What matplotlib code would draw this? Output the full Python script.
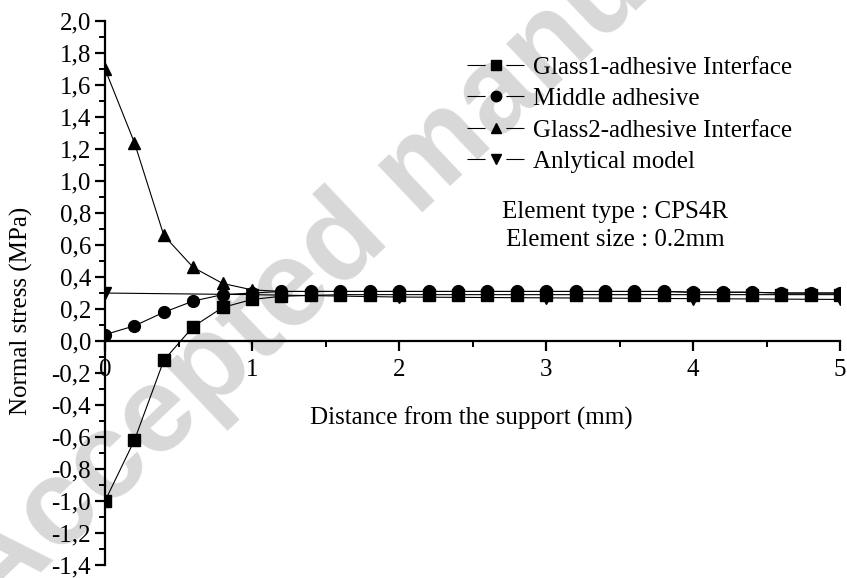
import matplotlib.pyplot as plt
import numpy as np
from matplotlib.lines import Line2D
from matplotlib.ticker import FuncFormatter, MultipleLocator

plt.rcParams['font.family'] = ['Liberation Serif', 'DejaVu Serif']
plt.rcParams['lines.scale_dashes'] = False

# distance along the joint (mm), FE nodes every 0.2 mm
x_fe = np.arange(26) * 0.2

glass1 = [-1.00, -0.62, -0.12, 0.09, 0.21, 0.26, 0.28, 0.285, 0.29, 0.29,
          0.29, 0.29, 0.29, 0.29, 0.29, 0.29, 0.29, 0.29, 0.29, 0.29,
          0.29, 0.29, 0.29, 0.29, 0.29, 0.29]
middle = [0.04, 0.095, 0.18, 0.25, 0.29, 0.30, 0.31, 0.31, 0.31, 0.31,
          0.31, 0.31, 0.31, 0.31, 0.31, 0.31, 0.31, 0.31, 0.31, 0.31,
          0.305, 0.305, 0.305, 0.30, 0.30, 0.30]
glass2 = [1.70, 1.24, 0.66, 0.46, 0.36, 0.32, 0.31, 0.31, 0.31, 0.31,
          0.31, 0.31, 0.31, 0.31, 0.31, 0.31, 0.31, 0.31, 0.31, 0.31,
          0.305, 0.305, 0.305, 0.30, 0.30, 0.30]

# analytical solution, evaluated at whole millimetres
x_an = [0, 1, 2, 3, 4, 5]
analytical = [0.30, 0.29, 0.275, 0.27, 0.265, 0.26]

labels = ['Glass1-adhesive Interface', 'Middle adhesive',
          'Glass2-adhesive Interface', 'Anlytical model']
markers = ['s', 'o', '^', 'v']
sizes = [8, 8.5, 9, 9]

fig = plt.figure(figsize=(8.47, 5.78), dpi=100)
ax = fig.add_axes([0.124, 0.0225, 0.868, 0.941])
ax.patch.set_alpha(0)

# diagonal watermark behind the axes
fig.text(-0.008, -0.071, 'Accepted manuscript', fontsize=88, color='#d8d8d8',
         rotation=43.4, rotation_mode='anchor', ha='left', va='baseline',
         fontweight='bold', family=['Liberation Sans', 'DejaVu Sans'], zorder=-1)

series = [(x_fe, glass1), (x_fe, middle), (x_fe, glass2), (x_an, analytical)]
for (xs, ys), m, s in zip(series, markers, sizes):
    ax.plot(xs, ys, color='black', lw=0.8, marker=m, ms=s,
            markerfacecolor='black', markeredgecolor='black')

ax.set_xlim(0, 5)
ax.set_ylim(-1.4, 2.0)
ax.spines['left'].set_position(('data', 0))
ax.spines['bottom'].set_position(('data', 0))
ax.spines['top'].set_visible(False)
ax.spines['right'].set_visible(False)
for s in ('left', 'bottom'):
    ax.spines[s].set_linewidth(1.6)

ax.xaxis.set_major_locator(MultipleLocator(1))
ax.xaxis.set_minor_locator(MultipleLocator(0.5))
ax.yaxis.set_major_locator(MultipleLocator(0.2))
ax.yaxis.set_minor_locator(MultipleLocator(0.1))
ax.yaxis.set_major_formatter(FuncFormatter(lambda v, p: f'{v:.1f}'.replace('.', ',')))
ax.xaxis.set_major_formatter(FuncFormatter(lambda v, p: f'{v:g}'))
ax.tick_params(which='major', direction='out', length=7, width=1.6, labelsize=18)
ax.tick_params(which='minor', direction='out', length=4, width=1.4)
ax.tick_params(axis='x', pad=6)
ax.tick_params(axis='y', pad=3)

ax.set_xlabel('Distance from the support (mm)', fontsize=18)
ax.xaxis.label.set_va('center')
ax.xaxis.set_label_coords(0.498, 0.27)
ax.set_ylabel('Normal stress (MPa)', fontsize=18)
ax.yaxis.label.set_va('center')
ax.yaxis.set_label_coords(-0.1135, 0.467)

# legend handles: line broken on both sides of the marker
handles = [Line2D([], [], color='black', lw=0.8, ls=(0, (13, 15, 13, 60)),
                  marker=m, ms=7.5, markerfacecolor='black',
                  markeredgecolor='black')
           for m in markers]
ax.legend(handles, labels, loc='upper left', bbox_to_anchor=(0.5514, 0.903),
          bbox_transform=fig.transFigure, frameon=False, fontsize=18,
          handlelength=2.3, handletextpad=0.32, labelspacing=0.36,
          borderpad=0, borderaxespad=0)

fig.text(0.726, 1 - 226 / 578, 'Element type : CPS4R\nElement size : 0.2mm',
         ha='center', va='center', fontsize=18, linespacing=1.32)

fig.savefig('out.png', dpi=100)
